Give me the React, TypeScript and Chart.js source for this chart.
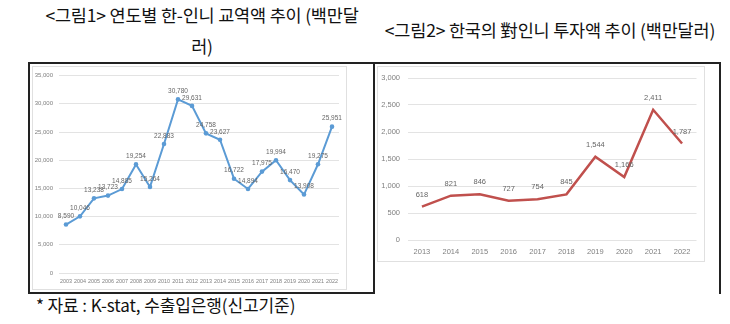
import React, { useEffect, useRef } from "react";
import { Chart, registerables } from "chart.js";

Chart.register(...registerables);

const tradeYears = ["2003", "2004", "2005", "2006", "2007", "2008", "2009", "2010", "2011", "2012", "2013", "2014", "2015", "2016", "2017", "2018", "2019", "2020", "2021", "2022"];
const tradeValues = [8590, 10046, 13238, 13723, 14885, 19254, 15264, 22883, 30780, 29631, 24758, 23627, 16722, 14894, 17975, 19994, 16470, 13908, 19275, 25951];
const tradeTickMax = 35000;
const tradeTickStep = 5000;

const investYears = ["2013", "2014", "2015", "2016", "2017", "2018", "2019", "2020", "2021", "2022"];
const investValues = [618, 821, 846, 727, 754, 845, 1544, 1166, 2411, 1787];
const investTickMax = 3000;
const investTickStep = 500;

const TICK_FONT = "'Liberation Sans', Arial, sans-serif";

const valueLabels = {
  id: "valueLabels",
  afterDatasetsDraw(chart: any) {
    const opts = chart.options.plugins.valueLabels || {};
    const ctx = chart.ctx;
    const meta = chart.getDatasetMeta(0);
    const data = chart.data.datasets[0].data as number[];
    ctx.save();
    ctx.font = `${opts.size || 7}px ${TICK_FONT}`;
    ctx.fillStyle = opts.color || "#666";
    ctx.textAlign = "center";
    ctx.textBaseline = "middle";
    meta.data.forEach((el: any, i: number) => {
      ctx.fillText(data[i].toLocaleString("en-US"), el.x, el.y - (opts.offset || 9));
    });
    ctx.restore();
  },
};

function LineChart(props: {
  labels: string[];
  values: number[];
  max: number;
  step: number;
  color: string;
  width: number;
  height: number;
  yWidth: number;
  xHeight: number;
  padTop: number;
  padRight: number;
  tickSize: number;
  xTickSize: number;
  xTickPad: number;
  yTickPad: number;
  labelSize: number;
  labelOffset: number;
  pointRadius: number;
  lineWidth: number;
}) {
  const ref = useRef<HTMLCanvasElement | null>(null);
  useEffect(() => {
    if (!ref.current) return;
    const chart = new Chart(ref.current, {
      type: "line",
      data: {
        labels: props.labels,
        datasets: [
          {
            data: props.values,
            borderColor: props.color,
            backgroundColor: props.color,
            borderWidth: props.lineWidth,
            pointRadius: props.pointRadius,
            pointBorderWidth: 0,
            pointBackgroundColor: props.color,
            tension: 0,
          },
        ],
      },
      options: {
        animation: false,
        responsive: false,
        locale: "en-US",
        layout: { padding: { top: props.padTop, right: props.padRight, left: 0, bottom: 0 } },
        plugins: {
          legend: { display: false },
          tooltip: { enabled: false },
          valueLabels: { size: props.labelSize, offset: props.labelOffset, color: "#666666" },
        } as any,
        scales: {
          x: {
            offset: true,
            grid: { display: false, drawTicks: false },
            border: { display: false },
            ticks: {
              color: "#808080",
              font: { size: props.xTickSize, family: TICK_FONT },
              padding: props.xTickPad,
              maxRotation: 0,
              autoSkip: false,
            },
            afterFit: (s: any) => {
              s.height = props.xHeight;
            },
          },
          y: {
            min: 0,
            max: props.max,
            grid: { color: "#e3e3e3", lineWidth: 1, drawTicks: false },
            border: { display: false },
            ticks: {
              stepSize: props.step,
              color: "#808080",
              font: { size: props.tickSize, family: TICK_FONT },
              padding: props.yTickPad,
            },
            afterFit: (s: any) => {
              s.width = props.yWidth;
            },
          },
        },
      },
      plugins: [valueLabels],
    });
    return () => chart.destroy();
  }, []);
  return <canvas ref={ref} width={props.width} height={props.height} style={{ width: props.width, height: props.height, display: "block" }} />;
}

const KR = "'Noto Sans CJK KR', 'Noto Sans', sans-serif";

export default function App() {
  return (
    <div style={{ position: "absolute", left: 0, top: 0, width: 730, height: 324, background: "#fff", overflow: "hidden" }}>
      <div style={{ position: "absolute", left: 14, top: -1, width: 376, textAlign: "center", fontFamily: KR, fontSize: 17.5, lineHeight: "31px", color: "#111", letterSpacing: -0.2, whiteSpace: "nowrap" }}>
        &lt;그림1&gt; 연도별 한-인니 교역액 추이 (백만달
        <br />
        러)
      </div>
      <div style={{ position: "absolute", left: 372, top: 16, width: 356, textAlign: "center", fontFamily: KR, fontSize: 17.5, lineHeight: "28px", color: "#111", letterSpacing: -0.2, whiteSpace: "nowrap" }}>
        &lt;그림2&gt; 한국의 對인니 투자액 추이 (백만달러)
      </div>

      <div style={{ position: "absolute", left: 28, top: 62, width: 347, height: 232, border: "2px solid #222", boxSizing: "border-box" }} />
      <div style={{ position: "absolute", left: 373, top: 62, width: 348, height: 232, borderTop: "2px solid #222", borderRight: "2px solid #222", boxSizing: "border-box" }} />

      <div style={{ position: "absolute", left: 32, top: 66, width: 315, height: 224, border: "1px solid #e0e0e0", boxSizing: "border-box" }} />
      <div style={{ position: "absolute", left: 32, top: 66 }}>
        <LineChart
          labels={tradeYears}
          values={tradeValues}
          max={tradeTickMax}
          step={tradeTickStep}
          color="#5b9bd5"
          width={315}
          height={224}
          yWidth={27}
          xHeight={17}
          padTop={5}
          padRight={8}
          tickSize={6}
          xTickSize={5.4}
          xTickPad={5}
          yTickPad={6}
          labelSize={6.5}
          labelOffset={8}
          pointRadius={2.3}
          lineWidth={2}
        />
      </div>

      <div style={{ position: "absolute", left: 377, top: 66, width: 328, height: 196, border: "1px solid #e0e0e0", boxSizing: "border-box" }} />
      <div style={{ position: "absolute", left: 377, top: 66 }}>
        <LineChart
          labels={investYears}
          values={investValues}
          max={investTickMax}
          step={investTickStep}
          color="#c0504d"
          width={328}
          height={196}
          yWidth={30.5}
          xHeight={22}
          padTop={8}
          padRight={8.5}
          tickSize={7.5}
          xTickSize={7.5}
          xTickPad={7}
          yTickPad={7.5}
          labelSize={7.5}
          labelOffset={12}
          pointRadius={0}
          lineWidth={2.5}
        />
      </div>

      <div style={{ position: "absolute", left: 36, top: 293, fontFamily: KR, fontSize: 17, lineHeight: "24px", color: "#111", letterSpacing: -0.1, whiteSpace: "nowrap" }}>
        * 자료 : K-stat, 수출입은행(신고기준)
      </div>
    </div>
  );
}
